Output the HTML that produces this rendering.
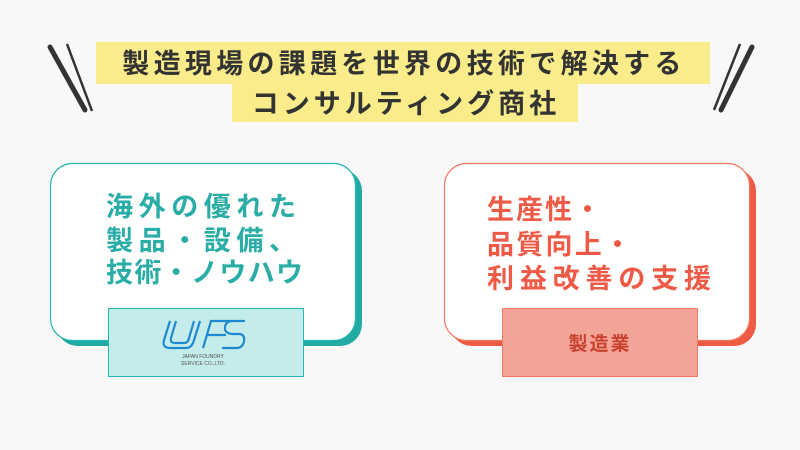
<!DOCTYPE html>
<html><head><meta charset="utf-8"><style>
html,body{margin:0;padding:0;background:#f8f8f8;}
svg{display:block}
text{font-family:"Liberation Sans","Noto Sans CJK JP",sans-serif;}
</style></head><body>
<svg width="800" height="450" viewBox="0 0 800 450" xmlns="http://www.w3.org/2000/svg">
<defs>
<linearGradient id="g" x1="0" x2="1" y1="0" y2="0">
<stop offset="0" stop-color="#2bb5b0"/><stop offset="0.5" stop-color="#dddddd"/><stop offset="1" stop-color="#f06a55"/>
</linearGradient>
</defs>
<rect width="800" height="450" fill="#f8f8f8"/>
<line x1="50" y1="47" x2="85" y2="110" stroke="#333" stroke-width="5" stroke-linecap="round"/>
<line x1="67" y1="44" x2="92" y2="111" stroke="#333" stroke-width="2.5"/>
<line x1="740" y1="44" x2="714" y2="110" stroke="#333" stroke-width="2.5"/>
<line x1="752" y1="47" x2="721" y2="110" stroke="#333" stroke-width="5" stroke-linecap="round"/>
<rect x="96" y="42" width="614" height="42" fill="#faec8a"/>
<rect x="232" y="82" width="346" height="40" fill="#faec8a"/>
<text x="404" y="73" text-anchor="middle" font-size="27" font-weight="bold" fill="#333" letter-spacing="4.3">製造現場の課題を世界の技術で解決する</text>
<text x="406" y="113" text-anchor="middle" font-size="27" font-weight="bold" fill="#333" letter-spacing="4">コンサルティング商社</text>
<rect x="56" y="169" width="306" height="177" rx="22" fill="#22aaa5"/>
<rect x="50.5" y="163.5" width="305" height="177" rx="22" fill="#fff" stroke="#2bb5b0" stroke-width="1.2"/>
<g font-size="27" font-weight="bold" fill="#2aaca7">
<text x="106" y="216" textLength="190" lengthAdjust="spacing">海外の優れた</text>
<text x="106" y="250" textLength="190" lengthAdjust="spacing">製品・設備、</text>
<text x="106" y="282" textLength="197" lengthAdjust="spacing">技術・ノウハウ</text>
</g>
<rect x="108.5" y="308.5" width="195" height="68" fill="#c4ecea" stroke="#2bb5b0" stroke-width="1"/>
<g fill="none" stroke="#1e88d0" stroke-width="2.2">
<path d="M170 321 L164 340 Q162 348 170 348 L186 348 Q192 348 194 340 L200 321"/>
<path d="M176 321 L171 338 Q170 343 175 343 L184 343 Q188 343 189 338 L194 321"/>
<path d="M203 348 L211 321 L232 321 M207 335 L226 335"/>
<path d="M245 321 L232 321 Q226 321 225 327 Q224 333 232 334 L240 334 Q245 335 244 341 Q243 348 236 348 L222 348"/>
</g>
<text x="203" y="358" font-size="5" fill="#555" text-anchor="middle">JAPAN FOUNDRY</text>
<text x="203" y="365" font-size="5" fill="#555" text-anchor="middle">SERVICE CO.,LTD.</text>
<line x1="331" y1="242" x2="468" y2="242" stroke="url(#g)" stroke-width="1.3"/>
<polyline points="456,231 468,242 456,253" fill="none" stroke="#f06a55" stroke-width="1.3"/>
<rect x="450" y="169" width="306" height="177" rx="22" fill="#ee5a42"/>
<rect x="444.5" y="163.5" width="305" height="177" rx="22" fill="#fff" stroke="#f07a66" stroke-width="1.2"/>
<g font-size="27" font-weight="bold" fill="#ee5a45">
<text x="487" y="219" textLength="114" lengthAdjust="spacing">生産性・</text>
<text x="487" y="254" textLength="144" lengthAdjust="spacing">品質向上・</text>
<text x="487" y="288" textLength="224" lengthAdjust="spacing">利益改善の支援</text>
</g>
<rect x="502.5" y="308.5" width="195" height="68" fill="#f4a497" stroke="#f07a66" stroke-width="1"/>
<text x="600" y="350" text-anchor="middle" font-size="19" font-weight="bold" fill="#c8402e" letter-spacing="2">製造業</text>
</svg>
</body></html>
